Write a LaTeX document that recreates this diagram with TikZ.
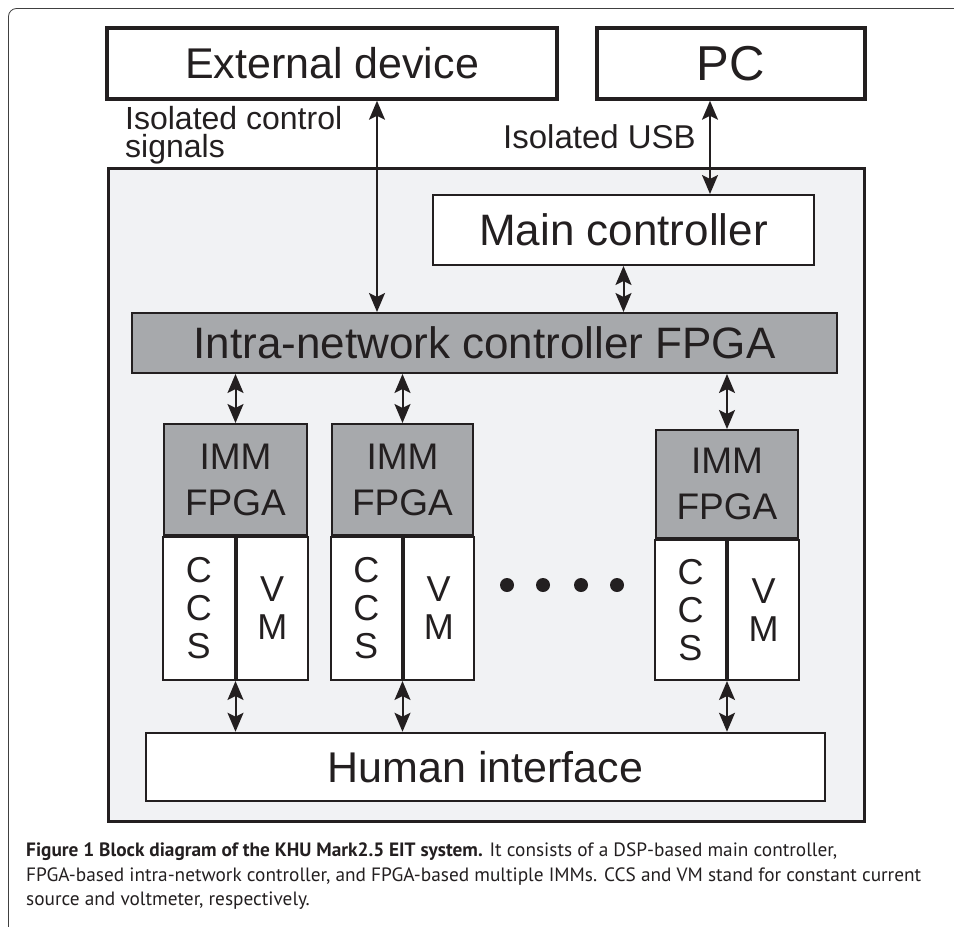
\documentclass[tikz,border=0pt]{standalone}
\usepackage{fontspec}
\setmainfont{Liberation Sans}
\newfontfamily\captionfont{PT Sans}
\usetikzlibrary{arrows.meta}
\definecolor{khuink}{RGB}{35,31,32}
\definecolor{khupanel}{RGB}{241,242,244}
\definecolor{khufpga}{RGB}{167,169,172}

\begin{document}
\begin{tikzpicture}[x=1pt, y=-1pt,
  block/.style={
    draw=khuink, line width=2pt, fill=white,
    text=khuink, inner sep=0pt, align=center
  },
  heavy/.style={block, line width=3.5pt},
  fpga/.style={block, fill=khufpga},
  cell/.style={block, minimum width=71.5pt, minimum height=143pt,
    font=\fontsize{36}{38}\selectfont},
  note/.style={text=khuink, inner sep=0pt, align=left},
  arrow/.style={{Stealth[length=19pt,width=16pt,inset=4pt]}-{Stealth[length=19pt,width=16pt,inset=4pt]},
    line width=2pt, draw=khuink}
]
  \useasboundingbox (0,0) rectangle (954,927);
  \draw[black!75, line width=0.8pt, rounded corners=8pt] (8.5,927) -- (8.5,8.5) -- (954,8.5);

  \node[heavy, minimum width=450pt, minimum height=71pt, font=\fontsize{43}{43}\selectfont] (ext) at (332,63.5) {External device};
  \node[heavy, minimum width=268pt, minimum height=71pt, font=\fontsize{49}{49}\selectfont] (pc) at (731,63.5) {PC};
  \node[heavy, fill=khupanel, minimum width=756pt, minimum height=653pt] (sys) at (486.5,495) {};

  \node[block, minimum width=381pt, minimum height=70pt, font=\fontsize{44}{44}\selectfont] (main) at (623.5,230) {Main controller};
  \node[fpga, minimum width=705pt, minimum height=60pt, font=\fontsize{44}{44}\selectfont] (intra) at (484.5,343) {Intra-network controller FPGA};

  \node[fpga, minimum width=143pt, minimum height=111pt, font=\fontsize{37}{46}\selectfont] (immA) at (235.5,479.5) {IMM\\FPGA};
  \node[cell, anchor=north east] (ccsA) at (immA.south) {C\\C\\S};
  \node[cell, anchor=north west] (vmA) at (immA.south) {V\\M};

  \node[fpga, minimum width=141pt, minimum height=111pt, font=\fontsize{37}{46}\selectfont] (immB) at (402.5,479.5) {IMM\\FPGA};
  \node[cell, minimum width=70.5pt, anchor=north east] (ccsB) at (immB.south) {C\\C\\S};
  \node[cell, minimum width=70.5pt, anchor=north west] (vmB) at (immB.south) {V\\M};

  \node[fpga, minimum width=142pt, minimum height=108pt, font=\fontsize{37}{46}\selectfont] (immC) at (727,484) {IMM\\FPGA};
  \node[cell, minimum width=71pt, minimum height=140pt, anchor=north east] (ccsC) at (immC.south) {C\\C\\S};
  \node[cell, minimum width=71pt, minimum height=140pt, anchor=north west] (vmC) at (immC.south) {V\\M};

  \foreach \dx in {507,543,581,617}
    \fill[khuink] (\dx,585) circle (7pt);

  \node[block, line width=2.5pt, minimum width=679pt, minimum height=68pt, font=\fontsize{43}{43}\selectfont] (hmi) at (485.5,767) {Human interface};

  \coordinate (extport) at (377,0);
  \coordinate (usbport) at (710,0);
  \draw[arrow] (ext.south -| extport) -- (intra.north -| extport);
  \draw[arrow] (pc.south -| usbport) -- (main.north -| usbport);
  \draw[arrow] (main.south) -- (main.south |- intra.north);

  \draw[arrow] (immA.north |- intra.south) -- (immA.north);
  \draw[arrow] (immB.north |- intra.south) -- (immB.north);
  \draw[arrow] (immC.north |- intra.south) -- (immC.north);
  \draw[arrow] (ccsA.south east) -- (ccsA.south east |- hmi.north);
  \draw[arrow] (ccsB.south east) -- (ccsB.south east |- hmi.north);
  \draw[arrow] (ccsC.south east) -- (ccsC.south east |- hmi.north);

  \node[note, anchor=north west, font=\fontsize{32}{28}\selectfont] (ctrlnote) at (125,106) {Isolated control\\signals};
  \node[note, anchor=base east, font=\fontsize{33}{33}\selectfont] (usbnote) at (696,148) {Isolated USB};

  \node[note, anchor=north west, font=\captionfont\fontsize{19.3}{24.3}\selectfont] (caption) at (26,843)
    {\textbf{Figure 1 Block diagram of the KHU Mark2.5 EIT system.} It consists of a DSP-based main controller,\\
     FPGA-based intra-network controller, and FPGA-based multiple IMMs. CCS and VM stand for constant current\\
     source and voltmeter, respectively.};
\end{tikzpicture}
\end{document}
